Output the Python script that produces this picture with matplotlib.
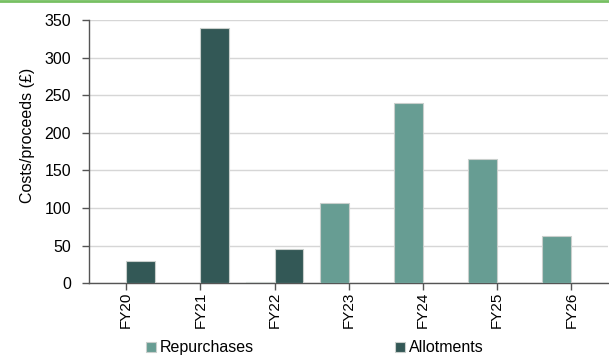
import numpy as np
import matplotlib.pyplot as plt
from matplotlib.lines import Line2D

plt.rcParams['font.family'] = ['Liberation Sans', 'DejaVu Sans']
plt.rcParams['font.size'] = 11.5

# Buyback costs and allotment proceeds by financial year (£)
years = ['FY20', 'FY21', 'FY22', 'FY23', 'FY24', 'FY25', 'FY26']
repurchases = [0, 0, 2, 107, 240, 165, 63]
allotments = [30, 339, 45, 0, 0, 0, 0]

rep_color = '#679d93'
allot_color = '#335856'
edge_color = '#c9cfcc'

fig = plt.figure(figsize=(6.09, 3.58), dpi=100)
ax = fig.add_axes([0.1461, 0.2087, 0.853, 0.7354])

x = np.arange(len(years))
w = 0.39
ax.bar(x - w / 2, repurchases, w, color=rep_color, edgecolor=edge_color,
       linewidth=0.8, label='Repurchases', zorder=3)
ax.bar(x + w / 2, allotments, w, color=allot_color, edgecolor=edge_color,
       linewidth=0.8, label='Allotments', zorder=3)

ax.set_xlim(-0.5, len(years) - 0.5)
ax.set_ylim(0, 350)
ax.set_yticks(range(0, 351, 50))
ax.set_xticks(x)
ax.set_xticklabels(years, rotation=90, fontsize=11)
ax.set_ylabel('Costs/proceeds (£)', fontsize=11.5)
ax.yaxis.set_label_coords(-0.104, 0.563)

ax.grid(axis='y', color='#d6d6d6', linewidth=1.0, zorder=0)
for side in ['top', 'right']:
    ax.spines[side].set_visible(False)
for side in ['left', 'bottom']:
    ax.spines[side].set_color('#555555')
    ax.spines[side].set_linewidth(1.0)
ax.tick_params(axis='both', colors='#555555', labelcolor='black',
               length=5, width=1.0)
ax.tick_params(axis='y', pad=8)
ax.tick_params(axis='x', pad=1)

# Legend along the bottom
fig.legend(loc='center', bbox_to_anchor=(0.517, 0.028), ncol=2, frameon=False,
           handlelength=0.65, handleheight=0.65, handletextpad=0.25,
           columnspacing=8.8, fontsize=11.5, borderaxespad=0)

# Thin green rule across the top
fig.add_artist(Line2D([0, 1], [0.998, 0.998], color='#77c062', linewidth=2.0,
                      transform=fig.transFigure))

fig.savefig('out.png', dpi=100)
